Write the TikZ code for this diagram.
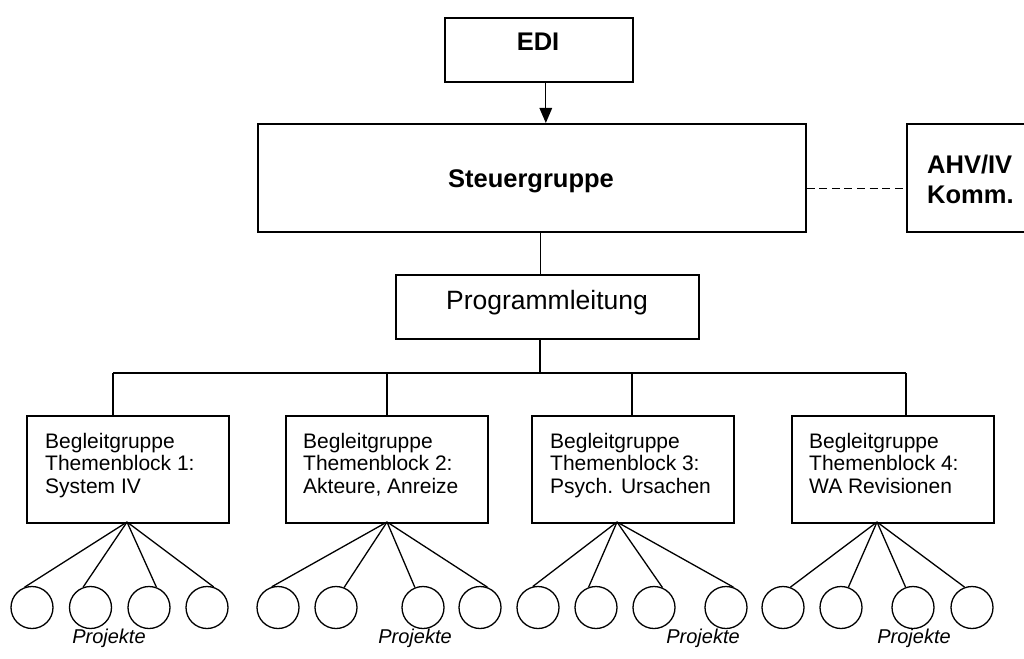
\documentclass[tikz,border=0pt]{standalone}
\usepackage{fontspec}
\setmainfont{Liberation Sans}
\usetikzlibrary{arrows.meta}
\begin{document}
\begin{tikzpicture}[x=1pt,y=-1pt,
  box/.style={draw, line width=1.6pt, inner sep=0pt, anchor=north west},
  conn/.style={line width=1.3pt},
  proj/.style={draw, circle, line width=1.3pt, minimum size=42pt, inner sep=0pt},
  boldtxt/.style={inner sep=0pt, font=\fontsize{25.5}{30}\selectfont\bfseries},
  bgtxt/.style={inner sep=0pt, anchor=north west, align=left, font=\fontsize{21}{22.5}\selectfont},
  projtxt/.style={inner sep=0pt, anchor=base, font=\fontsize{20}{22}\selectfont\itshape}
]
\useasboundingbox (0,0) rectangle (1024,658);
\clip (0,0) rectangle (1024,658);

% boxes
\node[box, minimum width=188pt, minimum height=64pt] (edi) at (444,17) {};
\node[box, minimum width=548pt, minimum height=108pt] (steuer) at (257,123) {};
\node[box, minimum width=150pt, minimum height=108pt] (ahv) at (906,123) {};
\node[box, minimum width=303pt, minimum height=64pt] (prog) at (395,274) {};
\node[box, minimum width=202pt, minimum height=107pt] (b1) at (26,415) {};
\node[box, minimum width=202pt, minimum height=107pt] (b2) at (285,415) {};
\node[box, minimum width=202pt, minimum height=107pt] (b3) at (531,415) {};
\node[box, minimum width=202pt, minimum height=107pt] (b4) at (791,415) {};

% texts
\node[boldtxt, anchor=base] (tedi) at (538,51) {EDI};
\node[boldtxt, anchor=base] (tsteuer) at (531,187) {Steuergruppe};
\node[boldtxt, anchor=north west, align=left] (tahv) at (927,154.5) {AHV/IV\\Komm.};
\node[inner sep=0pt, anchor=base, font=\fontsize{26.5}{30}\selectfont] (tprog) at (547,309) {Programmleitung};
\node[bgtxt] (t1) at (45,433) {Begleitgruppe\\Themenblock 1:\\System IV};
\node[bgtxt] (t2) at (303,433) {Begleitgruppe\\Themenblock 2:\\Akteure, Anreize};
\node[bgtxt] (t3) at (550,433) {Begleitgruppe\\Themenblock 3:\\Psych. Ursachen};
\node[bgtxt] (t4) at (809,433) {Begleitgruppe\\Themenblock 4:\\WA Revisionen};

% top connectors
\draw[conn, -{Triangle[width=12.5pt,length=15pt]}] ([xshift=7pt]edi.south) -- ([xshift=7pt]edi.south |- steuer.north);
\draw[conn, dash pattern=on 8pt off 4.6pt] ([yshift=-11pt]steuer.east) -- ([yshift=-11pt]steuer.east -| ahv.west);
\draw[conn] ([xshift=9pt]steuer.south) -- ([xshift=9pt]steuer.south |- prog.north);

% bus
\coordinate (bus) at (540,373);
\coordinate (d1) at (113,373);
\coordinate (d2) at (387,373);
\coordinate (d3) at (632,373);
\coordinate (d4) at (906,373);
\draw[conn] (prog.south -| bus) -- (bus);
\draw[conn] (d1) -- (d4);
\draw[conn] (d1) -- (d1 |- b1.north);
\draw[conn] (d2) -- (d2 |- b2.north);
\draw[conn] (d3) -- (d3 |- b3.north);
\draw[conn] (d4) -- (d4 |- b4.north);

% project circles
\foreach \n/\cx in {11/32, 12/90.5, 13/149, 14/207,
                    21/278, 22/336, 23/423, 24/480,
                    31/538, 32/596, 33/654, 34/726,
                    41/783, 42/841, 43/913, 44/972}
  \node[proj] (c\n) at (\cx,607.5) {};

\coordinate (a1) at (127,522);
\coordinate (a2) at (387,522);
\coordinate (a3) at (617,522);
\coordinate (a4) at (877,522);

\foreach \b/\c/\ang in {1/1/110, 1/2/110, 1/3/70, 1/4/72,
                        2/1/107, 2/2/68, 2/3/112, 2/4/70,
                        3/1/104, 3/2/110, 3/3/67, 3/4/70,
                        4/1/70, 4/2/70, 4/3/110, 4/4/110}
  \draw[conn] (a\b) -- (c\b\c.\ang);

% Projekte labels
\node[projtxt] (p1) at (109,643) {Projekte};
\node[projtxt] (p2) at (415,643) {Projekte};
\node[projtxt] (p3) at (703,643) {Projekte};
\node[projtxt] (p4) at (914,643) {Projekte};
\end{tikzpicture}
\end{document}
